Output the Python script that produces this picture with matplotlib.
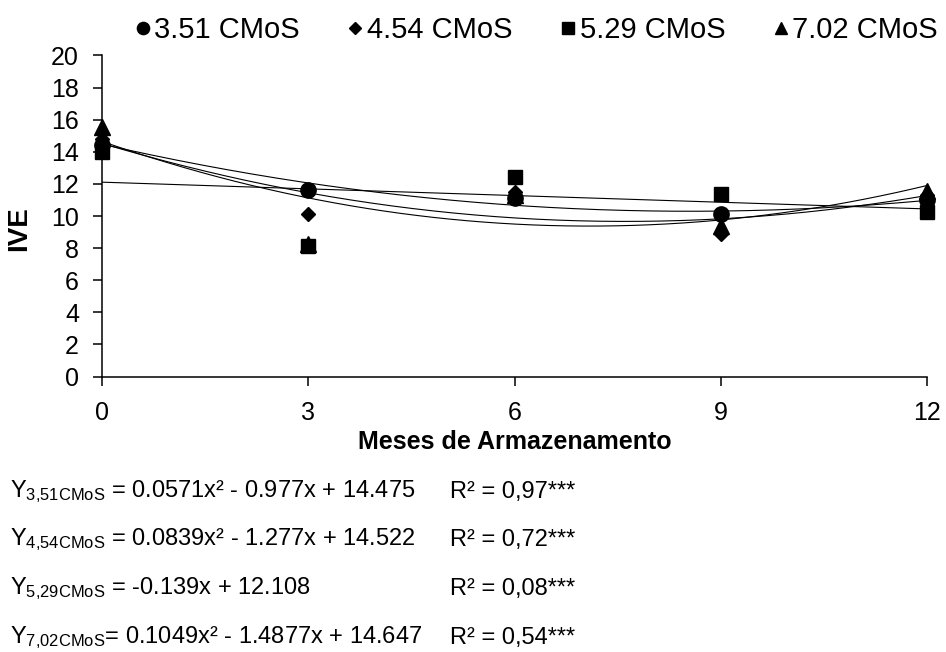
import numpy as np
import matplotlib
matplotlib.use("Agg")
from matplotlib import pyplot as plt

plt.rcParams["font.family"] = ["Liberation Sans", "DejaVu Sans"]
plt.rcParams["mathtext.fontset"] = "custom"
plt.rcParams["mathtext.rm"] = "Liberation Sans"
plt.rcParams["mathtext.it"] = "Liberation Sans:italic"
plt.rcParams["mathtext.bf"] = "Liberation Sans:bold"

# storage months and IVE readings per treatment
months = [0, 3, 6, 9, 12]
ive_351 = [14.4, 11.65, 11.1, 10.15, 11.0]
ive_454 = [14.8, 10.15, 11.5, 8.9, 11.3]
ive_529 = [14.0, 8.15, 12.4, 11.4, 10.25]
ive_702 = [15.55, 8.25, 11.3, 9.35, 11.55]

# regression coefficients (highest power first) as printed under the chart
coef_351 = [0.0571, -0.977, 14.475]
coef_454 = [0.0839, -1.277, 14.522]
coef_529 = [-0.139, 12.108]
coef_702 = [0.1049, -1.4877, 14.647]

labels = ["3.51 CMoS", "4.54 CMoS", "5.29 CMoS", "7.02 CMoS"]
markers = ["o", "D", "s", "^"]
sizes = [11, 7.5, 10.5, 11]

equations = [
    r"Y$_{\mathrm{3{,}51CMoS}}$ = 0.0571x² - 0.977x + 14.475",
    r"Y$_{\mathrm{4{,}54CMoS}}$ = 0.0839x² - 1.277x + 14.522",
    r"Y$_{\mathrm{5{,}29CMoS}}$ = -0.139x + 12.108",
    r"Y$_{\mathrm{7{,}02CMoS}}$= 0.1049x² - 1.4877x + 14.647",
]
r2_texts = ["R² = 0,97***", "R² = 0,72***", "R² = 0,08***", "R² = 0,54***"]

W, H = 946, 652
fig = plt.figure(figsize=(W / 100, H / 100), dpi=100)
ax = fig.add_axes([102 / W, 1 - 376.5 / H, (927 - 102) / W, 321 / H])

xs = np.linspace(0, 12, 200)
for coef in [coef_351, coef_454, coef_529, coef_702]:
    ax.plot(xs, np.polyval(coef, xs), color="black", linewidth=0.8, zorder=2)

series = [ive_351, ive_454, ive_529, ive_702]
for vals, m, s, lab in zip(series, markers, sizes, labels):
    ax.plot(months, vals, m, color="black", markersize=s, linestyle="none",
            label=lab, zorder=3, clip_on=False)

ax.set_xlim(0, 12)
ax.set_ylim(0, 20)
ax.set_xticks([0, 3, 6, 9, 12])
ax.set_yticks(np.arange(0, 21, 2))
ax.spines["top"].set_visible(False)
ax.spines["right"].set_visible(False)
for sp in ["left", "bottom"]:
    ax.spines[sp].set_linewidth(1.1)
ax.tick_params(direction="out", length=6.5, width=1.1, labelsize=18)
ax.tick_params(axis="x", pad=11)
ax.tick_params(axis="y", pad=10)

ax.set_xlabel("Meses de Armazenamento", fontsize=18, fontweight="bold", labelpad=4)
ax.set_ylabel("IVE", fontsize=20, fontweight="bold", labelpad=10)
ax.yaxis.set_label_coords(-0.085, 0.46)

fig.legend(loc="center", bbox_to_anchor=(536 / W, 1 - 30 / H), ncol=4,
           frameon=False, fontsize=21, markerscale=0.8, handletextpad=0.1,
           columnspacing=1.6, handlelength=0.6)

rows = [491.7, 540, 589, 638]
for eq, r2, y in zip(equations, r2_texts, rows):
    fig.text(10 / W, 1 - y / H, eq, fontsize=17, va="center", ha="left")
    fig.text(450 / W, 1 - y / H, r2, fontsize=17, va="center", ha="left")

fig.savefig("out.png", dpi=100)
